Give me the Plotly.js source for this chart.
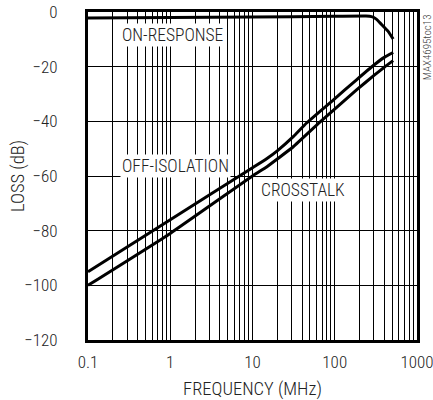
<!DOCTYPE html>
<html>
<head>
<meta charset="utf-8">
<script src="https://cdn.plot.ly/plotly-3.0.1.min.js"></script>
<style>html,body{margin:0;padding:0;background:#fff;}#chart{width:433px;height:400px;}</style>
</head>
<body>
<div id="chart"></div>
<script>
// Data
const freqOn = [0.1, 1, 10, 100, 240, 280, 320, 353, 400, 446, 513];
const lossOn = [-2.2, -2.0, -1.8, -1.6, -1.5, -1.7, -2.6, -3.9, -5.6, -7.1, -9.9];

const freqOff = [0.1, 1, 10, 15, 20, 31.3, 45.4, 95.7, 184, 300, 400, 513];
const lossOff = [-95, -76, -57, -53.6, -50.8, -45.6, -40.6, -32.2, -24.8, -19.4, -16.6, -14.8];

const freqCross = [0.1, 1, 10, 15, 20, 31.3, 65.9, 184, 300, 400, 513];
const lossCross = [-100, -81, -60, -56.6, -53.8, -49.3, -40.3, -28.5, -23.2, -20.2, -17.8];

const xTickVals = [];
const xTickText = [];
[0.1, 1, 10, 100].forEach(function (d) {
  for (let m = 1; m <= 9; m++) {
    const v = +(d * m).toPrecision(3);
    xTickVals.push(v);
    xTickText.push(m === 1 ? String(v) : '');
  }
});
xTickVals.push(1000); xTickText.push('1000');
const yTickVals = [-120, -100, -80, -60, -40, -20, 0];

const FONT = '"Roboto Condensed", "Liberation Sans Narrow", sans-serif';
const TXT = '#222';
const W = 300;
const lineStyle = {color: '#000', width: 3, shape: 'spline', smoothing: 0.4};

const traces = [
  {x: freqOn, y: lossOn, mode: 'lines', line: lineStyle, name: 'ON-RESPONSE', hoverinfo: 'skip'},
  {x: freqOff, y: lossOff, mode: 'lines', line: lineStyle, name: 'OFF-ISOLATION', hoverinfo: 'skip'},
  {x: freqCross, y: lossCross, mode: 'lines', line: lineStyle, name: 'CROSSTALK', hoverinfo: 'skip'}
];

const ann = function (text, x, y, extra) {
  return Object.assign({text: text, xref: 'paper', yref: 'paper', x: x, y: y,
    xanchor: 'center', yanchor: 'middle', showarrow: false, bgcolor: '#fff', borderpad: 1,
    font: {family: FONT, size: 17.5, color: TXT, weight: W}}, extra || {});
};

const layout = {
  width: 433, height: 400,
  margin: {l: 88, r: 16, t: 12, b: 60},
  paper_bgcolor: '#fff', plot_bgcolor: '#fff',
  showlegend: false,
  font: {family: FONT, size: 17, color: TXT, weight: W},
  xaxis: {
    type: 'log', range: [-1, 3],
    tickmode: 'array', tickvals: xTickVals, ticktext: xTickText,
    tickfont: {family: FONT, size: 17, color: TXT, weight: W},
    ticklabeloverflow: 'allow',
    showgrid: true, gridcolor: '#000', gridwidth: 1,
    showline: true, linecolor: '#000', linewidth: 3, mirror: true,
    ticks: '', zeroline: false, ticklabelstandoff: 5,
    title: {text: 'FREQUENCY (MHz)', font: {family: FONT, size: 18.5, color: TXT, weight: W}, standoff: 13}
  },
  yaxis: {
    range: [-120, 0], tickmode: 'array', tickvals: yTickVals,
    tickfont: {family: FONT, size: 17, color: TXT, weight: W},
    showgrid: true, gridcolor: '#000', gridwidth: 1,
    showline: true, linecolor: '#000', linewidth: 3, mirror: true,
    ticks: '', zeroline: false, ticklabelstandoff: 24
  },
  annotations: [
    ann('LOSS (dB)', -0.213, 0.5, {textangle: -90, bgcolor: 'rgba(0,0,0,0)', font: {family: FONT, size: 18.5, color: TXT, weight: W}}),
    ann('ON-RESPONSE', 0.258, 0.930),
    ann('OFF-ISOLATION', 0.266, 0.529),
    ann('CROSSTALK', 0.653, 0.457),
    ann('MAX4695toc13', 1.031, 0.893, {textangle: -90, bgcolor: 'rgba(0,0,0,0)', font: {family: FONT, size: 11, color: '#444', weight: W}})
  ]
};

Plotly.newPlot('chart', traces, layout, {staticPlot: true, displayModeBar: false});
</script>
</body>
</html>
